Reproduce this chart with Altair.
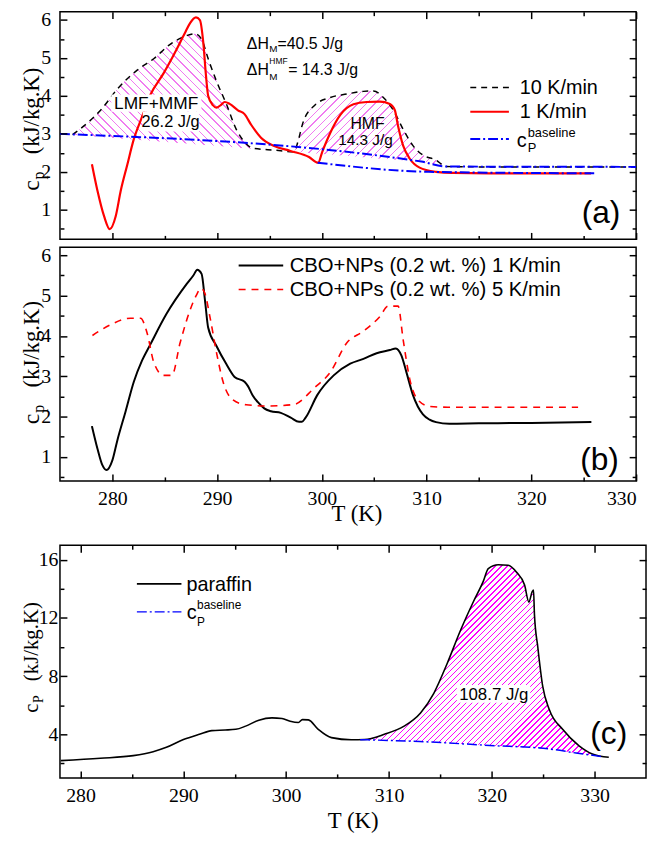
import altair as alt
import numpy as np
import pandas as pd

# ---------------- values ----------------
# panel (a)
T_a_1K = [278.05, 278.58, 279.21, 279.75, 280.32, 280.80, 281.42, 282.05, 282.75, 283.63,
          284.90, 285.70, 286.47, 287.00, 287.42, 287.98, 288.36, 288.68, 288.93, 289.15,
          289.62, 289.93, 290.35, 290.73, 291.20, 291.99, 292.62, 293.25, 294.19, 295.46,
          297.00, 298.77, 299.65, 300.03, 300.81, 301.76, 303.02, 304.28, 305.54, 306.49,
          306.96, 307.28, 307.76, 308.38, 309.33, 310.90, 312.50, 316.00, 320.00, 325.70]
cp_a_1K = [2.20, 1.50, 0.83, 0.49, 0.83, 1.50, 2.18, 2.86, 3.39, 4.03,
           4.60, 5.00, 5.41, 5.70, 5.92, 6.07, 6.00, 5.41, 4.56, 4.00,
           3.75, 3.69, 3.76, 3.84, 3.79, 3.62, 3.52, 3.24, 2.90, 2.68,
           2.55, 2.39, 2.24, 2.52, 3.03, 3.50, 3.78, 3.84, 3.85, 3.79,
           3.63, 3.20, 2.69, 2.35, 2.11, 2.00, 1.97, 1.96, 1.96, 1.96]
T_a_10K = [276.20, 277.64, 278.90, 280.47, 282.37, 283.95, 285.52, 287.10, 287.89, 288.52,
           289.15, 289.94, 290.88, 291.83, 292.77, 293.40, 295.50, 297.35, 297.70, 298.19,
           299.30, 300.81, 302.39, 303.97, 304.92, 305.87, 306.81, 307.76, 308.70, 309.65,
           310.90, 311.85, 315.00, 320.00, 325.00, 330.00]
cp_a_10K = [2.98, 3.29, 3.63, 4.18, 4.68, 4.98, 5.36, 5.59, 5.64, 5.49,
            4.98, 4.39, 3.79, 3.12, 2.74, 2.62, 2.57, 2.53, 2.78, 3.29,
            3.75, 3.96, 4.05, 4.12, 4.13, 3.96, 3.63, 3.12, 2.69, 2.44,
            2.31, 2.14, 2.13, 2.13, 2.13, 2.13]
T_a_base10 = [275.0, 309.5, 311.8, 330.0]
cp_a_base10 = [3.00, 2.27, 2.14, 2.13]
T_a_base1 = [299.6, 310.2, 326.0]
cp_a_base1 = [2.24, 2.00, 1.96]

# panel (b)
T_b_1K = [278.05, 278.58, 279.05, 279.43, 280.00, 280.47, 281.27, 282.05, 282.84, 283.63,
          285.20, 287.10, 287.73, 288.11, 288.52, 288.84, 289.15, 289.94, 290.88, 291.67,
          292.62, 292.93, 293.40, 293.87, 294.50, 295.14, 296.08, 297.03, 297.82, 298.10,
          298.45, 299.56, 301.13, 302.71, 303.97, 305.23, 306.49, 307.06, 307.60, 308.07,
          308.70, 309.65, 310.28, 310.90, 312.17, 315.00, 320.00, 325.73]
cp_b_1K = [1.76, 1.20, 0.79, 0.67, 0.91, 1.40, 2.13, 2.86, 3.39, 3.79,
           4.56, 5.29, 5.50, 5.64, 5.54, 4.89, 4.20, 3.75, 3.30, 2.98,
           2.86, 2.76, 2.52, 2.36, 2.20, 2.13, 2.09, 1.97, 1.87, 1.87,
           1.97, 2.53, 3.02, 3.31, 3.43, 3.57, 3.65, 3.69, 3.51, 3.10,
           2.53, 2.05, 1.92, 1.86, 1.82, 1.83, 1.84, 1.86]
T_b_5K = [278.10, 279.85, 281.74, 282.69, 283.31, 283.95, 284.89, 285.68, 286.47, 287.42,
          288.00, 288.46, 288.84, 289.31, 289.94, 290.57, 291.52, 292.77, 295.00, 297.35,
          299.24, 300.81, 302.39, 303.97, 305.54, 306.33, 307.28, 307.76, 308.38, 309.17,
          310.28, 312.00, 316.00, 320.00, 324.46]
cp_b_5K = [4.01, 4.28, 4.44, 4.44, 4.08, 3.35, 3.02, 3.02, 3.83, 4.64,
           5.00, 5.18, 5.05, 4.48, 3.59, 2.86, 2.41, 2.29, 2.26, 2.30,
           2.70, 3.10, 3.83, 4.12, 4.48, 4.74, 4.74, 3.91, 2.94, 2.41,
           2.25, 2.23, 2.23, 2.23, 2.23]

# panel (c)
T_c = [278.07, 281.93, 285.13, 287.06, 288.35, 289.95, 291.56, 292.77, 294.06, 295.10,
       296.06, 297.34, 298.62, 299.59, 300.39, 301.19, 301.58, 302.16, 303.12, 304.40,
       306.33, 307.62, 309.55, 311.47, 313.07, 314.36, 315.65, 316.93, 318.22, 319.18,
       319.66, 320.63, 321.59, 322.39, 323.19, 323.61, 323.93, 324.06, 324.15, 324.48,
       324.96, 325.60, 326.89, 328.49, 329.78, 331.38]
cp_c = [2.19, 2.35, 2.53, 2.80, 3.10, 3.62, 4.00, 4.25, 4.29, 4.34,
        4.56, 4.97, 5.13, 5.09, 4.90, 4.81, 5.01, 4.99, 4.34, 3.77,
        3.62, 3.64, 4.00, 4.56, 5.47, 6.82, 8.85, 11.10, 13.13, 14.53,
        15.39, 15.66, 15.62, 15.16, 14.26, 13.09, 13.81, 13.92, 12.23, 9.97,
        7.27, 5.69, 4.34, 3.21, 2.65, 2.42]
T_c_base = [307.20, 313.00, 319.80, 325.60, 328.20, 330.70]
cp_c_base = [3.63, 3.50, 3.23, 2.99, 2.71, 2.47]

# annotation labels placed in data units
LABELS_A = ["LMF+MMF", "26.2 J/g", "HMF", "14.3 J/g"]
LABELS_A_T = [284.18, 285.55, 304.36, 304.17]
LABELS_A_CP = [3.65, 3.19, 3.12, 2.70]
LABELS_A_SIZE = [17.5, 16.5, 16, 15.5]
BOX_A_T1 = [279.9, 282.9]
BOX_A_T2 = [288.5, 288.3]
BOX_A_C1 = [3.58, 3.06]
BOX_A_C2 = [4.04, 3.58]
LABEL_C = "108.7 J/g"
LABEL_C_T, LABEL_C_CP = 320.19, 6.37
BOX_C_T1, BOX_C_T2, BOX_C_C1, BOX_C_C2 = [316.6], [323.74], [6.17], [7.38]

# axis tick values (major ones are labelled)
X_TICKS_AB = [280, 290, 300, 310, 320, 330]
X_MINOR_AB = [285, 295, 305, 315, 325]
Y_TICKS_AB = [1, 2, 3, 4, 5, 6]
Y_MINOR_AB = [0.5, 1.5, 2.5, 3.5, 4.5, 5.5]
X_TICKS_C = [280, 290, 300, 310, 320, 330]
X_MINOR_C = [285, 295, 305, 315, 325]
Y_TICKS_C = [4, 8, 12, 16]
Y_MINOR_C = [2, 6, 10, 14]

# ---------------- styling / layout ----------------
SERIF = "Liberation Serif"
SANS = "Liberation Sans"
RED = "#ff0000"
BLUE = "#0000ff"
DASH_BASE = [10, 3, 2, 3]
ONE = pd.DataFrame({"k": [0]})


def tick_axis(orient, major, minor, major_test, labels, pad=0, title=None, tx=0, ty=0):
    """Frame axis with inward major/minor ticks; only major values get labels."""
    kw = dict(orient=orient, values=sorted(major + minor), ticks=True,
              tickSize=alt.ExprRef(expr=f"({major_test}) ? -7 : -4"),
              tickColor="black", tickWidth=1.5, domain=False, grid=False,
              labels=labels, minExtent=0, zindex=2, labelOverlap=False)
    if labels:
        kw.update(labelFont=SERIF, labelFontSize=20, labelColor="black",
                  labelPadding=pad + 7,
                  labelExpr=f"({major_test}) ? ('' + datum.value) : ''")
    if title is not None:
        kw.update(title=title, titleFont=SERIF, titleFontSize=23, titleFontWeight="normal",
                  titleColor="black", titleX=tx, titleY=ty, titleBaseline="alphabetic",
                  titleAlign="center")
    else:
        kw["title"] = None
    return alt.Axis(**kw)


def panel(xdom, ydom, W, H):
    xs = alt.Scale(domain=xdom, nice=False, zero=False)
    ys = alt.Scale(domain=ydom, nice=False, zero=False)
    P = dict(W=W, H=H, xs=xs, ys=ys, xdom=xdom, ydom=ydom,
             kx=W / (xdom[1] - xdom[0]), ky=H / (ydom[1] - ydom[0]))
    P["X"] = lambda f: alt.X(f"{f}:Q", scale=xs, axis=None)
    P["Y"] = lambda f: alt.Y(f"{f}:Q", scale=ys, axis=None)
    return P


def axis_layers(P, bottom, left, topax, right):
    d = pd.DataFrame({"T": P["xdom"], "cp": P["ydom"]})
    a = alt.Chart(d).mark_point(opacity=0).encode(
        x=alt.X("T:Q", scale=P["xs"], axis=bottom), y=alt.Y("cp:Q", scale=P["ys"], axis=left))
    b = alt.Chart(d).mark_point(opacity=0).encode(
        x=alt.X("T:Q", scale=P["xs"], axis=topax), y=alt.Y("cp:Q", scale=P["ys"], axis=right))
    # invisible anchor so every panel has the same left extent
    anchor = alt.Chart(ONE).mark_rule(opacity=0).encode(
        x=alt.value(-48), x2=alt.value(-47), y=alt.value(20), y2=alt.value(21))
    return [a, b, anchor]


def line_layer(P, T, cp, color, width, dash=None):
    props = dict(color=color, strokeWidth=width, interpolate="monotone", clip=True)
    if dash is not None:
        props["strokeDash"] = dash
    d = pd.DataFrame({"T": T, "cp": cp})
    return alt.Chart(d).mark_line(**props).encode(x=P["X"]("T"), y=P["Y"]("cp"))


def hatch(wpx, hpx, step, frac, color, direction):
    s = (wpx + hpx) / (wpx ** 2 + hpx ** 2)
    if direction == "/":
        x1, y1, x2, y2 = 0.0, 0.0, s * wpx, s * hpx
    else:
        x1, y1, x2, y2 = 0.0, 1.0, s * wpx, 1.0 - s * hpx
    n = max(1, int(round((wpx + hpx) / step)))
    gap = "#ffffff"
    stops = []
    for k in range(n):
        a = k / n
        b = (k + frac) / n
        stops += [alt.GradientStop(color=gap, offset=a), alt.GradientStop(color=color, offset=a),
                  alt.GradientStop(color=color, offset=b), alt.GradientStop(color=gap, offset=b)]
    return alt.LinearGradient(gradient="linear", stops=stops, x1=x1, y1=y1, x2=x2, y2=y2)


def hatched_area(P, T, cp, Tb, cpb, lo, hi, step, frac, color, direction):
    T = np.asarray(T, float)
    cp = np.asarray(cp, float)
    m = (T >= lo) & (T <= hi)
    d = pd.DataFrame({"T": T[m], "cp": cp[m], "base": np.interp(T[m], Tb, cpb)})
    wpx = (d["T"].max() - d["T"].min()) * P["kx"]
    hpx = (d["cp"].max() - d["base"].min()) * P["ky"]
    g = hatch(wpx, hpx, step, frac, color, direction)
    return alt.Chart(d).mark_area(fill=g, interpolate="monotone", clip=True).encode(
        x=P["X"]("T"), y=P["Y"]("cp"), y2=alt.Y2("base:Q"))


def ptext(text, x, y, size, font=SANS, angle=None, align="left"):
    props = dict(text=text, font=font, fontSize=size, align=align,
                 baseline="alphabetic", color="black")
    if angle is not None:
        props["angle"] = angle
    return alt.Chart(ONE).mark_text(**props).encode(x=alt.value(x), y=alt.value(y))


def prule(x1, x2, y, color, width, dash=None):
    props = dict(color=color, strokeWidth=width)
    if dash is not None:
        props["strokeDash"] = dash
    return alt.Chart(ONE).mark_rule(**props).encode(
        x=alt.value(x1), x2=alt.value(x2), y=alt.value(y), y2=alt.value(y))


def dtext(P, text, T, cp, size):
    return alt.Chart(ONE).mark_text(text=text, font=SANS, fontSize=size, align="center",
                                    baseline="alphabetic", color="black").encode(
        x=alt.XDatum(T, scale=P["xs"], axis=None, type="quantitative"),
        y=alt.YDatum(cp, scale=P["ys"], axis=None, type="quantitative"))


def boxes(P, T1, T2, c1, c2):
    d = pd.DataFrame({"T1": T1, "T2": T2, "c1": c1, "c2": c2})
    return alt.Chart(d).mark_rect(color="white").encode(
        x=P["X"]("T1"), x2=alt.X2("T2:Q"), y=P["Y"]("c1"), y2=alt.Y2("c2:Q"))


def ytitle(x, y0, csize, sub, subsize, dy_sub, dy_rest, rsize):
    return [
        ptext("c", x, y0, csize, font=SERIF, angle=270),
        ptext(sub, x + 5, y0 - dy_sub, subsize, font=SERIF, angle=270),
        ptext("(kJ/kg.K)", x, y0 - dy_rest, rsize, font=SERIF, angle=270),
    ]


def finish(layers, W, H):
    return alt.layer(*layers).properties(width=W, height=H).resolve_axis(
        x="independent", y="independent")


X_TEST_10 = "datum.value % 10 === 0"
Y_TEST_1 = "datum.value % 1 === 0"
Y_TEST_4 = "datum.value % 4 === 0"

# ---------------- panel (a) ----------------
W_AB, H_A, H_B = 582, 230, 236
PA = panel([275, 330], [0.22, 6.22], W_AB, H_A)
HATCH_A = "#f07cf0"
layers_a = axis_layers(
    PA,
    tick_axis("bottom", X_TICKS_AB, X_MINOR_AB, X_TEST_10, False),
    tick_axis("left", Y_TICKS_AB, Y_MINOR_AB, Y_TEST_1, True, pad=9.5),
    tick_axis("top", X_TICKS_AB, X_MINOR_AB, X_TEST_10, False),
    tick_axis("right", Y_TICKS_AB, Y_MINOR_AB, Y_TEST_1, False),
)
layers_a += [
    hatched_area(PA, T_a_10K, cp_a_10K, T_a_base10, cp_a_base10, 276.0, 294.0, 8.5, 0.18, HATCH_A, "\\"),
    hatched_area(PA, T_a_10K, cp_a_10K, T_a_base10, cp_a_base10, 297.3, 312.0, 8.5, 0.18, HATCH_A, "/"),
    line_layer(PA, T_a_10K, cp_a_10K, "black", 1.5, [6, 5]),
    line_layer(PA, T_a_1K, cp_a_1K, RED, 2.2),
    line_layer(PA, T_a_base10, cp_a_base10, BLUE, 2, DASH_BASE),
    line_layer(PA, T_a_base1, cp_a_base1, BLUE, 2, DASH_BASE),
    boxes(PA, BOX_A_T1, BOX_A_T2, BOX_A_C1, BOX_A_C2),
]
for t, tt, cc, ss in zip(LABELS_A, LABELS_A_T, LABELS_A_CP, LABELS_A_SIZE):
    layers_a.append(dtext(PA, t, tt, cc, ss))
layers_a += [
    ptext("\u0394H", 188.8, 37.2, 16),
    ptext("M", 211.5, 40.6, 10),
    ptext("=40.5 J/g", 219.8, 37.2, 16),
    ptext("\u0394H", 188.8, 63.7, 16),
    ptext("HMF", 211.5, 53.3, 8.5),
    ptext("M", 211.5, 68.9, 10),
    ptext("= 14.3 J/g", 230.5, 63.7, 16),
    prule(414.5, 453.5, 76.7, "black", 1.5, [6, 5]),
    ptext("10 K/min", 464.5, 83, 20),
    prule(414.5, 453.5, 101.1, RED, 2.2),
    ptext("1 K/min", 464.5, 107.5, 20),
    prule(414.5, 453.5, 128.6, BLUE, 2, DASH_BASE),
    ptext("c", 461.5, 137.1, 20),
    ptext("P", 472.5, 142, 13),
    ptext("baseline", 472.5, 126.4, 13),
    ptext("(a)", 527, 213.7, 32),
]
layers_a += ytitle(-21.5, 181, 24, "p", 16, 11.5, 37, 23)
chart_a = finish(layers_a, W_AB, H_A)

# ---------------- panel (b) ----------------
PB = panel([275, 330], [0.4, 6.2], W_AB, H_B)
layers_b = axis_layers(
    PB,
    tick_axis("bottom", X_TICKS_AB, X_MINOR_AB, X_TEST_10, True, pad=8,
              title="T (K)", tx=299.5, ty=40.5),
    tick_axis("left", Y_TICKS_AB, Y_MINOR_AB, Y_TEST_1, True, pad=9.5),
    tick_axis("top", [], [], X_TEST_10, False),
    tick_axis("right", Y_TICKS_AB, Y_MINOR_AB, Y_TEST_1, False),
)
layers_b += [
    line_layer(PB, T_b_1K, cp_b_1K, "black", 2),
    line_layer(PB, T_b_5K, cp_b_5K, RED, 1.6, [7, 6]),
    prule(180.5, 225.5, 18.3, "black", 2),
    ptext("CBO+NPs (0.2 wt. %) 1 K/min", 232, 25, 20.5),
    prule(180.5, 225.5, 42.7, RED, 1.6, [7, 6]),
    ptext("CBO+NPs (0.2 wt. %) 5 K/min", 232, 49, 20.5),
    ptext("(b)", 525.5, 225, 32),
]
layers_b += ytitle(-21.5, 178.7, 24, "p", 16, 11.5, 37, 23)
chart_b = finish(layers_b, W_AB, H_B)

# ---------------- panel (c) ----------------
W_C, H_C = 592, 235
PC = panel([278, 335], [1, 17], W_C, H_C)
layers_c = axis_layers(
    PC,
    tick_axis("bottom", X_TICKS_C, X_MINOR_C, X_TEST_10, True, pad=8,
              title="T (K)", tx=295.7, ty=50),
    tick_axis("left", Y_TICKS_C, Y_MINOR_C, Y_TEST_4, True, pad=2),
    tick_axis("top", X_TICKS_C, X_MINOR_C, X_TEST_10, False),
    tick_axis("right", Y_TICKS_C, Y_MINOR_C, Y_TEST_4, False),
)
layers_c += [
    hatched_area(PC, T_c, cp_c, T_c_base, cp_c_base, 307.2, 330.7, 6.0, 0.25, "#ff00ff", "/"),
    boxes(PC, BOX_C_T1, BOX_C_T2, BOX_C_C1, BOX_C_C2),
    dtext(PC, LABEL_C, LABEL_C_T, LABEL_C_CP, 17),
    line_layer(PC, T_c, cp_c, "black", 1.6),
    line_layer(PC, T_c_base, cp_c_base, BLUE, 1.5, DASH_BASE),
    prule(77.7, 122.7, 39, "black", 1.6),
    ptext("paraffin", 127.7, 46.3, 20),
    prule(77.7, 122.7, 67.3, BLUE, 1.2, DASH_BASE),
    ptext("c", 128, 74.6, 20),
    ptext("P", 138.5, 81.3, 12),
    ptext("baseline", 138.5, 64.3, 12),
    ptext("(c)", 535.7, 200.6, 32),
]
layers_c += ytitle(-22.3, 169.3, 21, "P", 14, 10, 32, 21)
chart_c = finish(layers_c, W_C, H_C)

top = alt.vconcat(chart_a, chart_b, spacing=0)
chart = alt.vconcat(top, chart_c, spacing=14).properties(
    padding={"left": 3.5, "top": -4.5, "right": -3, "bottom": 0},
    background="white",
).configure_view(stroke="black", strokeWidth=1.5)

chart.save("out.html", embed_options={"renderer": "svg", "actions": False})
